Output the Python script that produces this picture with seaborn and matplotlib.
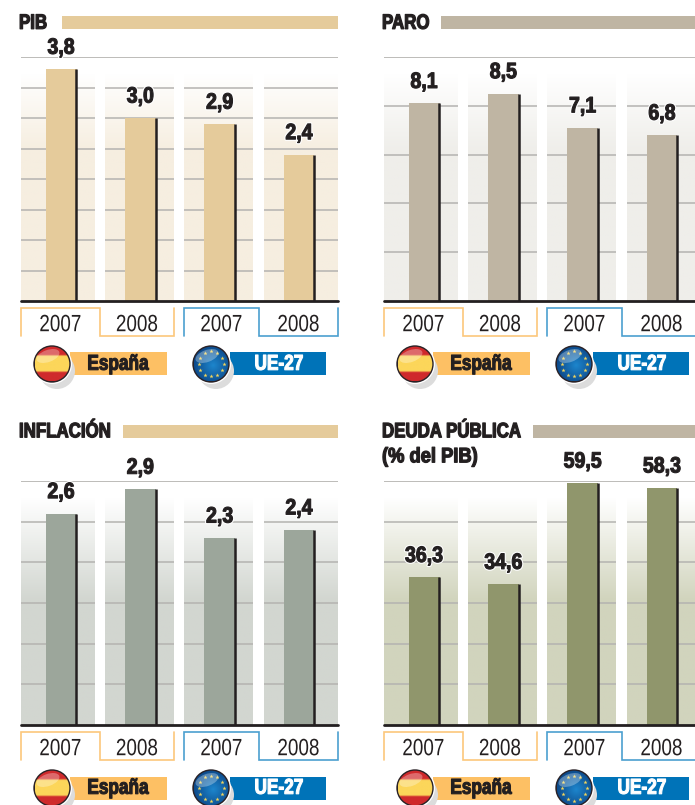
"""Cuatro paneles de barras: PIB, paro, inflacion y deuda publica (Espana vs UE-27)."""
import numpy as np
import pandas as pd
import seaborn as sns
import matplotlib.pyplot as plt
import matplotlib.patheffects as pe
from matplotlib.colors import to_rgb
from matplotlib.patches import Circle, Ellipse, Rectangle
from matplotlib.transforms import Affine2D

# --- DATOS ---
CATEGORIES = ['España 2007', 'España 2008', 'UE-27 2007', 'UE-27 2008']
YEARS = ['2007', '2008', '2007', '2008']
PIB = [3.8, 3.0, 2.9, 2.4]
PARO = [8.1, 8.5, 7.1, 6.8]
INFLACION = [2.6, 2.9, 2.3, 2.4]
DEUDA = [36.3, 34.6, 59.5, 58.3]

GRID_PIB = [0.5, 1.0, 1.5, 2.0, 2.5, 3.0, 3.5]
GRID_PARO = [2, 4, 6, 8]
GRID_INFLACION = [0.5, 1.0, 1.5, 2.0, 2.5]
GRID_DEUDA = [10, 20, 30, 40, 50]

# --- ESTILO ---
sns.set_style("white")
plt.rcParams['font.family'] = ['Liberation Sans', 'DejaVu Sans']

W, H = 695, 805
DARK = '#231f20'
GRID = '#b4b3b0'
ORANGE = '#fdc064'
ORANGE_LINE = '#fcc77c'
BLUE = '#0073b8'
BLUE_LINE = '#4b9fcf'
XMIN, XMAX = -0.505, 3.492
STRIPS = [(XMIN, 0.428), (0.554, 1.424), (1.55, 2.42), (2.56, XMAX)]


class Squeeze(pe.AbstractPathEffect):
    """Estrecha el texto en horizontal (no hay fuente condensada instalada)."""

    def __init__(self, sx, anchor='center', stroke=0.0, color=None):
        super().__init__()
        self.sx, self.anchor, self.stroke, self.color = sx, anchor, stroke, color

    def draw_path(self, renderer, gc, tpath, affine, rgbFace=None):
        xs = tpath.vertices[:, 0]
        c = xs.min() if self.anchor == 'left' else (xs.min() + xs.max()) / 2
        aff = Affine2D().translate(-c, 0).scale(self.sx, 1).translate(c, 0) + affine
        gc0 = renderer.new_gc()
        gc0.copy_properties(gc)
        face = rgbFace
        if self.color is not None:
            face = to_rgb(self.color)
            gc0.set_foreground(self.color)
        gc0.set_linewidth(self.stroke)
        renderer.draw_path(gc0, tpath, aff, face)
        gc0.restore()


def add_panel(fig, values, ticks, top_value, x0, base_y, bar_color, strip_color, grad):
    ax = fig.add_axes([x0 / W, 1 - base_y / H, 317 / W, 244 / H])
    df = pd.DataFrame({'cat': CATEGORIES, 'val': values})
    sns.barplot(data=df, x='cat', y='val', color=bar_color, saturation=1, width=0.39,
                ax=ax, zorder=3, errorbar=None, linewidth=0)

    # franjas de fondo con degradado desde blanco
    y_start, y_full = grad
    to_val = top_value / 244
    v_start = (base_y - y_start) * to_val
    v_full = (base_y - y_full) * to_val
    frac = np.clip((v_start - np.linspace(0, v_start, 200)) / (v_start - v_full), 0, 1)
    rgb = np.array(to_rgb(strip_color))
    img = (1 - (1 - rgb) * frac[:, None]).reshape(200, 1, 3)
    for left, right in STRIPS:
        ax.imshow(img[::-1], extent=(left, right, 0, v_start), aspect='auto', zorder=1)
        ax.hlines(ticks, left, right, color=GRID, lw=1.1, zorder=2)
    ax.hlines(top_value, XMIN, XMAX, color='#bdbcb9', lw=1.4, zorder=2)

    # borde negro a la derecha de cada barra y valor encima
    for patch, val in zip(ax.patches, values):
        right = patch.get_x() + patch.get_width()
        ax.vlines(right - 0.004, 0, val, color=DARK, lw=1.8, zorder=4)
        ax.annotate(f'{val:.1f}'.replace('.', ','),
                    (patch.get_x() + patch.get_width() / 2, val),
                    xytext=(0, 7.5), textcoords='offset points', ha='center', va='bottom',
                    fontsize=16, fontweight='bold', color=DARK, zorder=6,
                    annotation_clip=False,
                    path_effects=[Squeeze(0.88, stroke=2.4, color='white'),
                                  Squeeze(0.88, stroke=0.8, color=DARK)])
    ax.axhline(0, color=DARK, lw=2, zorder=5, clip_on=False)
    ax.set_xlim(XMIN, XMAX)
    ax.set_ylim(0, top_value)
    ax.set_axis_off()
    return ax


def draw_header(ov, lines, x0, y, bar_left, bar_right, color):
    ov.add_patch(Rectangle((bar_left, y - 6.5), bar_right - bar_left, 13, color=color, lw=0))
    for i, line in enumerate(lines):
        ov.text(x0, y + 0.8 + i * 25, line, fontsize=15, fontweight='bold', color=DARK,
                ha='left', va='center',
                path_effects=[Squeeze(0.81 if i == 0 else 0.88, 'left', 0.9, DARK)])


def draw_tabs(ov, x0, y0):
    y1, y2 = y0 + 7, y0 + 35
    sets = [(x0, x0 + 79, x0 + 153, ORANGE_LINE), (x0 + 163, x0 + 238, x0 + 317, BLUE_LINE)]
    for idx, (a, b, c, col) in enumerate(sets):
        ov.plot([a, a, b, b, c, c], [y2, y1, y1, y2, y2, y1], color=col, lw=1.2,
                solid_joinstyle='miter')
        for k, xm in enumerate(((a + b) / 2, (b + c) / 2)):
            ov.text(xm, (y1 + y2) / 2 + 3.2, YEARS[idx * 2 + k], fontsize=17, color=DARK,
                    ha='center', va='center', path_effects=[Squeeze(0.8)])


def draw_flag(ov, cx, cy, kind):
    ov.add_patch(Circle((cx + 5, cy + 7), 18, color='#dcdcdc', lw=0, zorder=2))
    ov.add_patch(Circle((cx, cy), 20, color='white', lw=0, zorder=3))
    ov.add_patch(Circle((cx, cy), 18.7, color='#2a2226', lw=0, zorder=3))
    r = 17.3
    clip = Circle((cx, cy), r, transform=ov.transData)
    if kind == 'es':
        t = np.abs(np.linspace(-1, 1, 100))
        yellow, red = np.array(to_rgb('#fcd65a')), np.array(to_rgb('#cf2a2c'))
        k = np.clip((t - 0.42) / 0.1, 0, 1)[:, None, None]
        img = yellow * (1 - k) + red * k
    else:
        g = np.linspace(-1, 1, 100)
        xx, yy = np.meshgrid(g, g)
        k = np.clip(np.hypot(xx - 0.1, yy - 0.1) / 1.3, 0, 1)[:, :, None]
        img = np.array(to_rgb('#1d86cd')) * (1 - k) + np.array(to_rgb('#0a3f7e')) * k
    im = ov.imshow(img, extent=(cx - r, cx + r, cy + r, cy - r), aspect='auto', zorder=4)
    im.set_clip_path(clip)
    if kind == 'ue':
        ang = np.deg2rad(np.arange(0, 360, 30))
        ov.scatter(cx + 12.5 * np.cos(ang), cy + 12.5 * np.sin(ang), marker='*', s=10,
                   color='#f3d65c', lw=0, zorder=5)
    gloss = Ellipse((cx - 4, cy - 8), 24, 12, angle=-20, color='white', alpha=0.3, lw=0, zorder=6)
    ov.add_patch(gloss)
    gloss.set_clip_path(Circle((cx, cy), r, transform=ov.transData))


def draw_legend(ov, x0, y0):
    cy = y0 + 63
    ov.add_patch(Rectangle((x0 + 49, cy - 11.5), 97, 23, color=ORANGE, lw=0, zorder=1))
    ov.add_patch(Rectangle((x0 + 209, cy - 11.5), 96, 23, color=BLUE, lw=0, zorder=1))
    draw_flag(ov, x0 + 31, cy, 'es')
    draw_flag(ov, x0 + 190, cy, 'ue')
    ov.text(x0 + 97, cy + 0.3, 'España', fontsize=15.5, fontweight='bold', color=DARK,
            ha='center', va='center', zorder=7, path_effects=[Squeeze(0.8, stroke=0.8, color=DARK)])
    ov.text(x0 + 258, cy + 0.3, 'UE-27', fontsize=15.5, fontweight='bold', color='white',
            ha='center', va='center', zorder=7,
            path_effects=[Squeeze(0.8, stroke=0.8, color='white')])


def main():
    fig = plt.figure(figsize=(W / 100, H / 100), dpi=100, facecolor='white')

    add_panel(fig, PIB, GRID_PIB, 4.0, 21, 301, '#e5cb9b', '#f6eee0', (73, 150))
    add_panel(fig, PARO, GRID_PARO, 10, 384, 301, '#bfb5a3', '#efeeea', (73, 150))
    add_panel(fig, INFLACION, GRID_INFLACION, 3.0, 21, 725, '#9ca69b', '#d2d6d0', (497, 600))
    add_panel(fig, DEUDA, GRID_DEUDA, 60, 384, 725, '#90966c', '#d1d4bd', (497, 600))

    # capa en pixeles para cabeceras, pestanas y leyendas
    ov = fig.add_axes([0, 0, 1, 1])
    ov.patch.set_alpha(0)

    draw_header(ov, ['PIB'], 19, 22.5, 62, 338, '#e5cb9b')
    draw_header(ov, ['PARO'], 382, 22.5, 441, 695, '#bfb5a3')
    draw_header(ov, ['INFLACIÓN'], 19, 431, 123, 338, '#e5cb9b')
    draw_header(ov, ['DEUDA PÚBLICA', '(% del PIB)'], 382, 431, 533, 695, '#bfb5a3')

    for x0 in (21, 384):
        for y0 in (301, 725):
            draw_tabs(ov, x0, y0)
            draw_legend(ov, x0, y0)

    ov.set_xlim(0, W)
    ov.set_ylim(H, 0)
    ov.set_axis_off()

    fig.savefig('out.png', dpi=100)
    plt.close(fig)


if __name__ == "__main__":
    main()
